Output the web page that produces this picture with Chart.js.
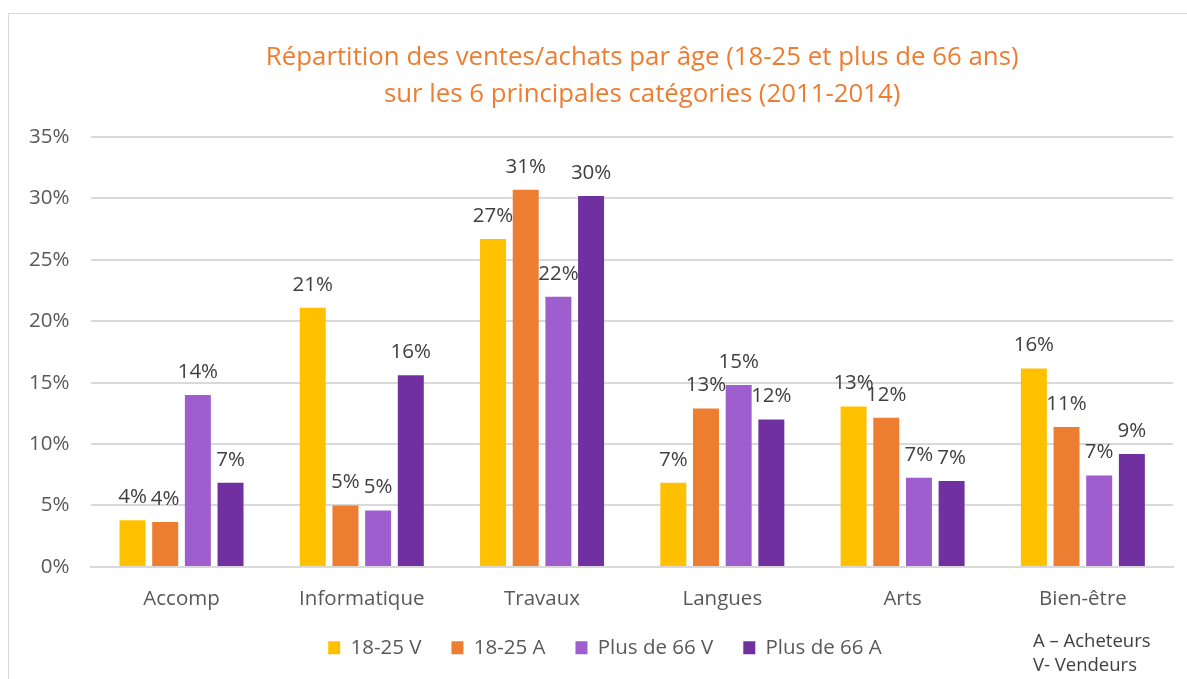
<!DOCTYPE html>
<html>
<head>
<meta charset="utf-8">
<script src="https://cdn.jsdelivr.net/npm/chart.js@4/dist/chart.umd.min.js"></script>
<style>
  html, body { margin: 0; padding: 0; background: #fff; }
  #wrap { position: relative; width: 1187px; height: 679px; overflow: hidden; }
  #frame { position: absolute; left: 8px; top: 13px; width: 1200px; height: 700px; border: 1px solid #d9d9d9; box-sizing: border-box; }
  canvas { position: absolute; left: 0; top: 0; }
  #note { position: absolute; left: 1033px; top: 628px; font-family: 'Open Sans', sans-serif; font-size: 18.5px; line-height: 24px; color: #404040; }
</style>
</head>
<body>
<div id="wrap">
  <div id="frame"></div>
  <canvas id="c" width="1187" height="679"></canvas>
  <div id="note">A – Acheteurs<br>V- Vendeurs</div>
</div>
<script>
const titleLines = ["Répartition des ventes/achats par âge (18-25 et plus de 66 ans)", "sur les 6 principales catégories (2011-2014)"];
const categories = ["Accomp", "Informatique", "Travaux", "Langues", "Arts", "Bien-être"];
const seriesNames = ["18-25 V", "18-25 A", "Plus de 66 V", "Plus de 66 A"];
const s1825V = [3.8, 21.1, 26.7, 6.85, 13.05, 16.15];
const s1825A = [3.65, 5.0, 30.7, 12.9, 12.15, 11.4];
const s66V = [14.0, 4.6, 22.0, 14.8, 7.25, 7.45];
const s66A = [6.85, 15.6, 30.2, 12.0, 7.0, 9.2];
const yTicks = [0, 5, 10, 15, 20, 25, 30, 35];
const colors = ["#FFC000", "#ED7D31", "#9E5ECE", "#7030A0"];

const FONT = "'Open Sans', 'Liberation Sans', sans-serif";
const FS = 20.5;

const labelPlugin = {
  id: 'barLabels',
  afterDatasetsDraw(chart) {
    const ctx = chart.ctx;
    ctx.save();
    ctx.font = FS + "px " + FONT;
    ctx.fillStyle = "#404040";
    ctx.textAlign = "center";
    ctx.textBaseline = "middle";
    chart.data.datasets.forEach((ds, i) => {
      const meta = chart.getDatasetMeta(i);
      meta.data.forEach((bar, j) => {
        ctx.fillText(Math.round(ds.data[j]) + "%", bar.x, bar.y - 23);
      });
    });
    ctx.restore();
  }
};

const titlePlugin = {
  id: 'titleLines',
  afterLayout(chart) {
    const lg = chart.legend;
    if (lg) { lg.left += 15; lg.right += 15; lg.top -= 16; lg.bottom -= 16; }
  },
  afterDraw(chart) {
    const ctx = chart.ctx;
    const ca = chart.chartArea;
    ctx.save();
    ctx.font = "25.8px " + FONT;
    ctx.fillStyle = "#ED7D31";
    ctx.textAlign = "center";
    ctx.textBaseline = "middle";
    const cx = (ca.left + ca.right) / 2 + 10;
    ctx.fillText(titleLines[0], cx, 58);
    ctx.fillText(titleLines[1], cx, 95);
    ctx.restore();
  }
};

const datasets = [s1825V, s1825A, s66V, s66A].map((d, i) => ({
  label: seriesNames[i],
  data: d,
  backgroundColor: colors[i],
  borderWidth: 0,
  categoryPercentage: 0.725,
  barPercentage: 0.795
}));

new Chart(document.getElementById('c'), {
  type: 'bar',
  data: { labels: categories, datasets },
  options: {
    responsive: false,
    animation: false,
    devicePixelRatio: 1,
    layout: { padding: { top: 137, left: 7, right: 14, bottom: -5 } },
    plugins: {
      legend: {
        position: 'bottom',
        labels: {
          font: { family: FONT, size: FS },
          color: "#595959",
          boxWidth: 12,
          boxHeight: 13,
          padding: 30
        }
      },
      title: { display: false },
      tooltip: { enabled: false }
    },
    scales: {
      x: {
        grid: { display: false },
        border: { color: "#d9d9d9", width: 2 },
        ticks: { font: { family: FONT, size: FS }, color: "#595959", padding: 12 }
      },
      y: {
        min: 0, max: 35,
        afterBuildTicks(axis) { axis.ticks = yTicks.map(v => ({ value: v })); },
        grid: { color: "#d9d9d9", lineWidth: 2, drawTicks: false },
        border: { display: false },
        ticks: { font: { family: FONT, size: FS }, color: "#595959", padding: 22, callback: v => v + "%" }
      }
    }
  },
  plugins: [labelPlugin, titlePlugin]
});
</script>
</body>
</html>
